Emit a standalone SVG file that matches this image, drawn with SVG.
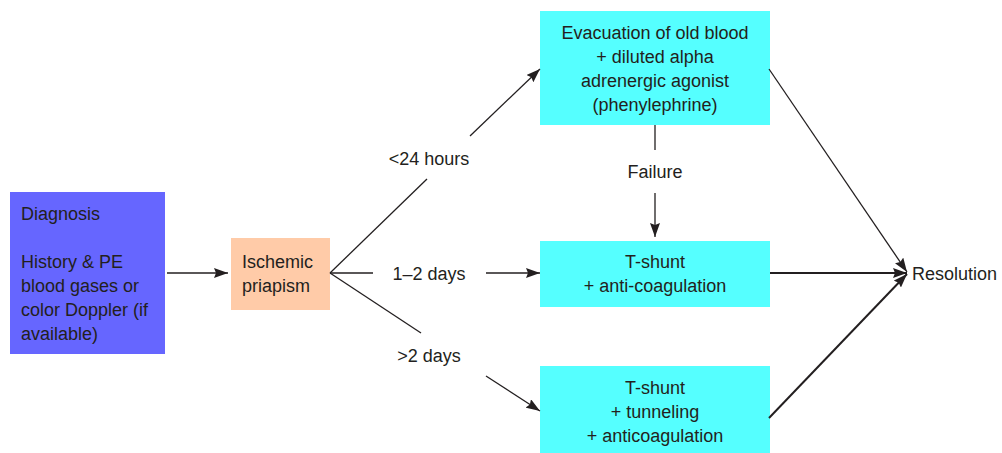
<svg xmlns="http://www.w3.org/2000/svg" width="1002" height="453" viewBox="0 0 1002 453">
<defs>
<marker id="ahl" viewBox="0 0 14 10" refX="14" refY="5" markerWidth="14" markerHeight="10" markerUnits="userSpaceOnUse" orient="auto">
<path d="M0,0 L14,5 L0,10 L2,5 z" fill="#231f20"/>
</marker>
<style>
text{font-family:"Liberation Sans",Arial,Helvetica,sans-serif;font-size:18px;fill:#231f20}
.c{text-anchor:middle}
.ln{stroke:#231f20;stroke-width:1.3;fill:none}
.lt{stroke:#231f20;stroke-width:2;fill:none}
.cy{fill:#55ffff}
</style>
</defs>
<rect width="1002" height="453" fill="#ffffff"/>
<g id="diagnosis">
<rect x="10" y="192" width="155" height="162" fill="#6666ff"/>
<text x="21" y="220">Diagnosis</text>
<text x="21" y="268">History &amp; PE</text>
<text x="21" y="292">blood gases or</text>
<text x="21" y="316">color Doppler (if</text>
<text x="21" y="340">available)</text>
</g>
<g id="ischemic">
<rect x="231" y="238" width="99" height="72" fill="#ffcba8"/>
<text x="242" y="268">Ischemic</text>
<text x="242" y="292">priapism</text>
</g>
<g id="evacuation">
<rect class="cy" x="540" y="11" width="230" height="114"/>
<text class="c" x="655" y="39">Evacuation of old blood</text>
<text class="c" x="655" y="63">+ diluted alpha</text>
<text class="c" x="655" y="87">adrenergic agonist</text>
<text class="c" x="655" y="111">(phenylephrine)</text>
</g>
<g id="tshunt1">
<rect class="cy" x="540" y="241" width="230" height="66"/>
<text class="c" x="655" y="268">T-shunt</text>
<text class="c" x="655" y="292">+ anti-coagulation</text>
</g>
<g id="tshunt2">
<rect class="cy" x="540" y="366" width="230" height="87"/>
<text class="c" x="655" y="394">T-shunt</text>
<text class="c" x="655" y="418">+ tunneling</text>
<text class="c" x="655" y="442">+ anticoagulation</text>
</g>
<g id="resolution">
<text x="912" y="280">Resolution</text>
</g>
<g id="connectors">
<line class="ln" x1="167" y1="273" x2="228" y2="273" marker-end="url(#ahl)"/>
<line class="ln" x1="330" y1="273" x2="427" y2="179"/>
<line class="ln" x1="470" y1="136" x2="540" y2="69" marker-end="url(#ahl)"/>
<text class="c" x="429" y="165">&lt;24 hours</text>
<line class="ln" x1="330" y1="273" x2="373" y2="273"/>
<line class="ln" x1="486" y1="273" x2="540" y2="273" marker-end="url(#ahl)"/>
<text class="c" x="429" y="280">1–2 days</text>
<line class="ln" x1="330" y1="273" x2="421" y2="333"/>
<line class="ln" x1="486" y1="376" x2="540" y2="411" marker-end="url(#ahl)"/>
<text class="c" x="429" y="362">&gt;2 days</text>
<line class="ln" x1="655" y1="125" x2="655" y2="150"/>
<line class="ln" x1="655" y1="193" x2="655" y2="237" marker-end="url(#ahl)"/>
<text class="c" x="655" y="178">Failure</text>
<line class="ln" x1="769" y1="69" x2="907" y2="272" marker-end="url(#ahl)"/>
<line class="lt" x1="770" y1="273" x2="907" y2="273" marker-end="url(#ahl)"/>
<line class="lt" x1="769" y1="418" x2="907" y2="274" marker-end="url(#ahl)"/>
</g>
</svg>
